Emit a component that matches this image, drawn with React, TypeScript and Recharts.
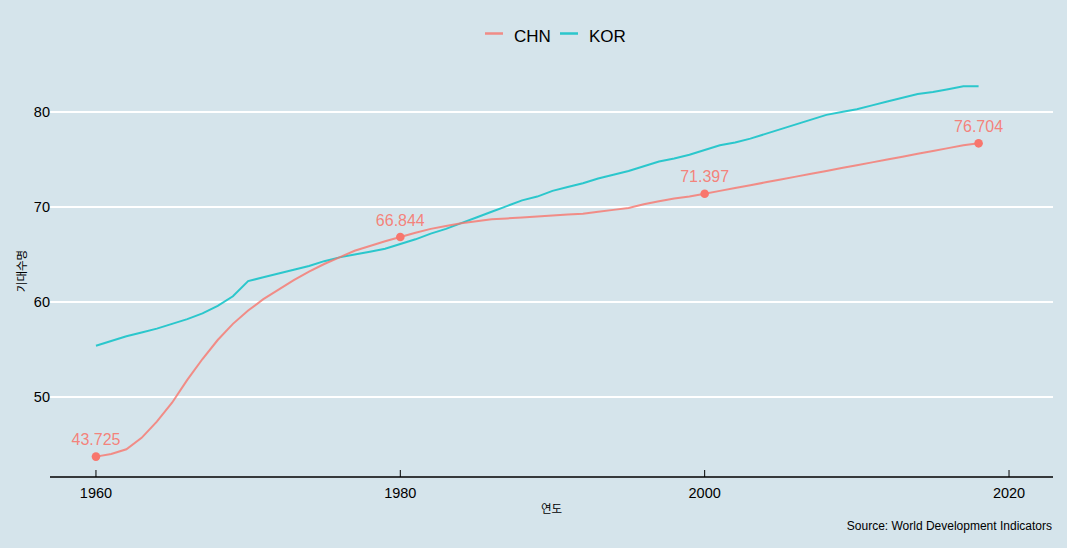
import React from 'react';
import { LineChart, Line, XAxis, YAxis, CartesianGrid, Legend, LabelList, Customized } from 'recharts';

const years = [
  1960, 1961, 1962, 1963, 1964, 1965, 1966, 1967, 1968, 1969,
  1970, 1971, 1972, 1973, 1974, 1975, 1976, 1977, 1978, 1979,
  1980, 1981, 1982, 1983, 1984, 1985, 1986, 1987, 1988, 1989,
  1990, 1991, 1992, 1993, 1994, 1995, 1996, 1997, 1998, 1999,
  2000, 2001, 2002, 2003, 2004, 2005, 2006, 2007, 2008, 2009,
  2010, 2011, 2012, 2013, 2014, 2015, 2016, 2017, 2018,
];

const chn = [
  43.725, 44.0, 44.5, 45.7, 47.4, 49.4, 51.8, 54.0, 56.0, 57.7,
  59.1, 60.3, 61.3, 62.3, 63.2, 64.0, 64.7, 65.4, 65.9, 66.4,
  66.844, 67.3, 67.7, 68.0, 68.3, 68.5, 68.7, 68.8, 68.9, 69.0,
  69.1, 69.2, 69.3, 69.5, 69.7, 69.9, 70.3, 70.6, 70.9, 71.1,
  71.397, 71.7, 72.0, 72.3, 72.6, 72.9, 73.2, 73.5, 73.8, 74.1,
  74.4, 74.7, 75.0, 75.3, 75.6, 75.9, 76.2, 76.5, 76.704,
];

const kor = [
  55.4, 55.9, 56.4, 56.8, 57.2, 57.7, 58.2, 58.8, 59.6, 60.6,
  62.2, 62.6, 63.0, 63.4, 63.8, 64.3, 64.7, 65.0, 65.3, 65.6,
  66.1, 66.6, 67.2, 67.7, 68.3, 68.9, 69.5, 70.1, 70.7, 71.1,
  71.7, 72.1, 72.5, 73.0, 73.4, 73.8, 74.3, 74.8, 75.1, 75.5,
  76.0, 76.5, 76.8, 77.2, 77.7, 78.2, 78.7, 79.2, 79.7, 80.0,
  80.3, 80.7, 81.1, 81.5, 81.9, 82.1, 82.4, 82.7, 82.7,
];

const labelYears = [1960, 1980, 2000, 2018];
const xTicks = [1960, 1980, 2000, 2020];
const yTicks = [50, 60, 70, 80];

const data = years.map((year, i) => ({ year, CHN: chn[i], KOR: kor[i] }));

const BG = '#d5e4eb';
const CHN_COLOR = '#F8766D';
const KOR_COLOR = '#00BFC4';
const FONT = '"Liberation Sans", Arial, sans-serif';
const KFONT = '"Noto Sans CJK KR", "Liberation Sans", sans-serif';

const XTick = (props: any) => {
  const { x, y, payload } = props;
  return (
    <g>
      <line x1={x} x2={x} y1={y} y2={y - 7} stroke="#000" strokeWidth={1} />
      <text x={x} y={y + 21} textAnchor="middle" fontSize={14.5} fontFamily={FONT} fill="#000">
        {payload.value}
      </text>
    </g>
  );
};

const YTick = (props: any) => {
  const { x, y, payload } = props;
  return (
    <text x={x} y={y + 5} textAnchor="end" fontSize={14.5} fontFamily={FONT} fill="#000">
      {payload.value}
    </text>
  );
};

const ChnDot = (props: any) => {
  const { cx, cy, payload, index } = props;
  if (!payload || labelYears.indexOf(payload.year) < 0) return <g key={`d${index}`} />;
  return <circle key={`d${index}`} cx={cx} cy={cy} r={4.3} fill={CHN_COLOR} />;
};

const ChnLabel = (props: any) => {
  const { x, y, value, index } = props;
  if (labelYears.indexOf(years[index]) < 0) return null;
  return (
    <text x={x} y={y - 11.5} textAnchor="middle" fontSize={16} fontFamily={FONT} fill={CHN_COLOR} fillOpacity={0.9}>
      {value}
    </text>
  );
};

const LegendContent = () => (
  <svg width={150} height={24} style={{ display: 'block', overflow: 'visible' }}>
    <line x1={0} x2={18} y1={11.5} y2={11.5} stroke={CHN_COLOR} strokeOpacity={0.8} strokeWidth={2.5} />
    <text x={29} y={20} fontSize={17} fontFamily={FONT} fill="#000">CHN</text>
    <line x1={75} x2={93} y1={11.5} y2={11.5} stroke={KOR_COLOR} strokeOpacity={0.8} strokeWidth={2.5} />
    <text x={104} y={20} fontSize={17} fontFamily={FONT} fill="#000">KOR</text>
  </svg>
);

const Caption = () => (
  <g>
    <text x={1052} y={530} textAnchor="end" fontSize={12} fontFamily={FONT} fill="#000">
      Source: World Development Indicators
    </text>
    <text x={551.5} y={512.5} textAnchor="middle" fontSize={11.5} fontFamily={KFONT} fill="#000">
      연도
    </text>
    <text
      x={26}
      y={271}
      textAnchor="middle"
      fontSize={11.5}
      fontFamily={KFONT}
      fill="#000"
      transform="rotate(-90 26 271)"
    >
      기대수명
    </text>
  </g>
);

const gridRows = (props: any) => {
  const { yAxis, offset } = props || {};
  const sc = yAxis && yAxis.scale;
  if (sc && typeof sc === 'function') {
    return yTicks.map((t) => sc(t));
  }
  if (sc && typeof sc.map === 'function') {
    return yTicks.map((t) => sc.map(t));
  }
  // fallback: use the library's default tick coordinates, dropping plot edges
  const pts: number[] = (props && props.defaultPoints) || [];
  return pts.filter((p: number) => !offset || (p > offset.top + 1 && p < offset.top + offset.height - 1));
};

export default function App() {
  return (
    <div style={{ position: 'absolute', left: 0, top: 0, width: 1067, height: 548, background: BG }}>
      <LineChart
        width={1067}
        height={548}
        data={data}
        margin={{ top: 65, right: 14, bottom: 0, left: 0 }}
      >
        <CartesianGrid
          horizontal={true}
          vertical={false}
          stroke="#ffffff"
          strokeWidth={2}
          horizontalCoordinatesGenerator={gridRows}
        />
        <XAxis
          dataKey="year"
          type="number"
          domain={[1956.98, 2022.89]}
          ticks={xTicks}
          height={71}
          tickLine={false}
          tickSize={0}
          tickMargin={0}
          axisLine={{ stroke: '#000', strokeWidth: 1.3 }}
          tick={<XTick />}
          interval={0}
          allowDataOverflow={true}
        />
        <YAxis
          type="number"
          domain={[41.58, 84.95]}
          ticks={yTicks}
          width={50}
          tickLine={false}
          tickSize={0}
          tickMargin={0}
          axisLine={false}
          tick={<YTick />}
          interval={0}
          allowDataOverflow={true}
        />
        <Legend
          verticalAlign="middle"
          align="center"
          layout="horizontal"
          wrapperStyle={{ top: 22, left: 485, width: 150, height: 24 }}
          content={<LegendContent />}
        />
        <Line
          type="linear"
          dataKey="KOR"
          stroke={KOR_COLOR}
          strokeOpacity={0.8}
          strokeWidth={2}
          dot={false}
          activeDot={false}
          isAnimationActive={false}
        />
        <Line
          type="linear"
          dataKey="CHN"
          stroke={CHN_COLOR}
          strokeOpacity={0.8}
          strokeWidth={2}
          dot={<ChnDot />}
          activeDot={false}
          isAnimationActive={false}
        >
          <LabelList dataKey="CHN" content={<ChnLabel />} />
        </Line>
        <Customized component={<Caption />} />
      </LineChart>
    </div>
  );
}
